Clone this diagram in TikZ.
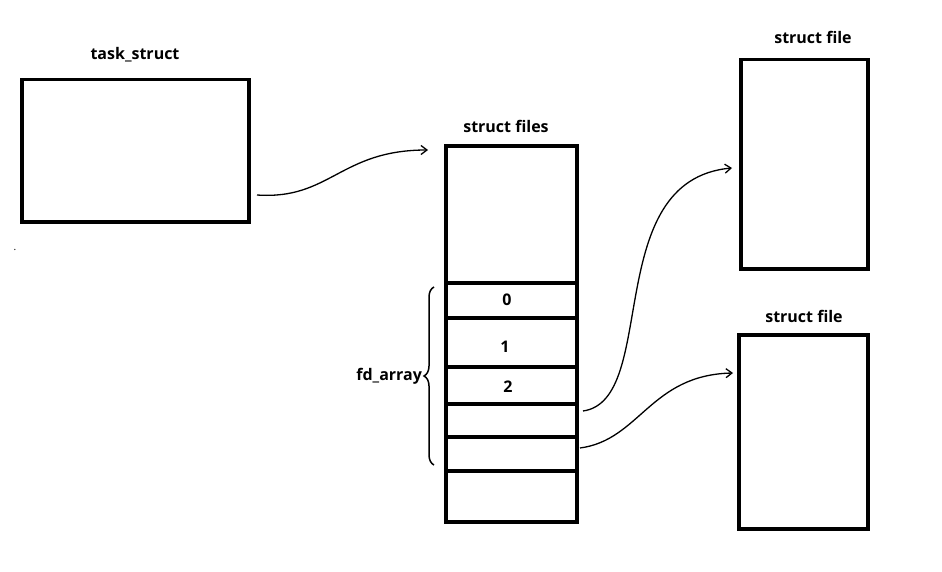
\documentclass[tikz,border=0pt]{standalone}
\usepackage{fontspec}
\setmainfont{Open Sans}
\usetikzlibrary{decorations.pathreplacing,arrows.meta}
\begin{document}
\begin{tikzpicture}[x=1pt,y=-1pt,
  box/.style={draw,line width=3.5pt},
  lbl/.style={font=\fontsize{16}{18}\selectfont\bfseries},
  num/.style={font=\fontsize{16}{18}\selectfont\bfseries},
  conn/.style={line width=1.3pt,-{Straight Barb[length=6pt,width=9pt]}}]
\useasboundingbox (0,0) rectangle (942,572);
\node[box,minimum width=227pt,minimum height=142pt,anchor=north west] (task) at (20,78) {};
\node[lbl] (tl) at (135,55) {task\_struct};
\draw[box] (446,146) rectangle (577,522);
\foreach \y in {283,318,367,404,437,471} \draw[box] (446,\y) -- (577,\y);
\node[lbl] (fl) at (506,126) {struct files};
\node[num] (n0) at (507,300) {0};
\node[num] (n1) at (505,347) {1};
\node[num] (n2) at (508,387) {2};
\node[box,minimum width=127pt,minimum height=209pt,anchor=north west] (sf1) at (739,58) {};
\node[lbl] (sl1) at (813,37) {struct file};
\node[box,minimum width=129pt,minimum height=194pt,anchor=north west] (sf2) at (737,333) {};
\node[lbl] (sl2) at (804,316) {struct file};
\node (dot) at (15,250) {.};
\draw[line width=1.5pt,decorate,decoration={brace,amplitude=10pt}] (434,465) -- (434,287) node[midway,left=8pt,lbl] (fd) {fd\_array};
\coordinate (a1) at (257,195);
\coordinate (a2) at (428,150);
\draw[conn] (a1) .. controls (330,200) and (340,150) .. (a2);
\coordinate (b1) at (583,411);
\coordinate (b2) at (732,168);
\draw[conn] (b1) .. controls (660,400) and (600,180) .. (b2);
\coordinate (c1) at (580,448);
\coordinate (c2) at (733,373);
\draw[conn] (c1) .. controls (640,440) and (650,375) .. (c2);
\end{tikzpicture}
\end{document}
